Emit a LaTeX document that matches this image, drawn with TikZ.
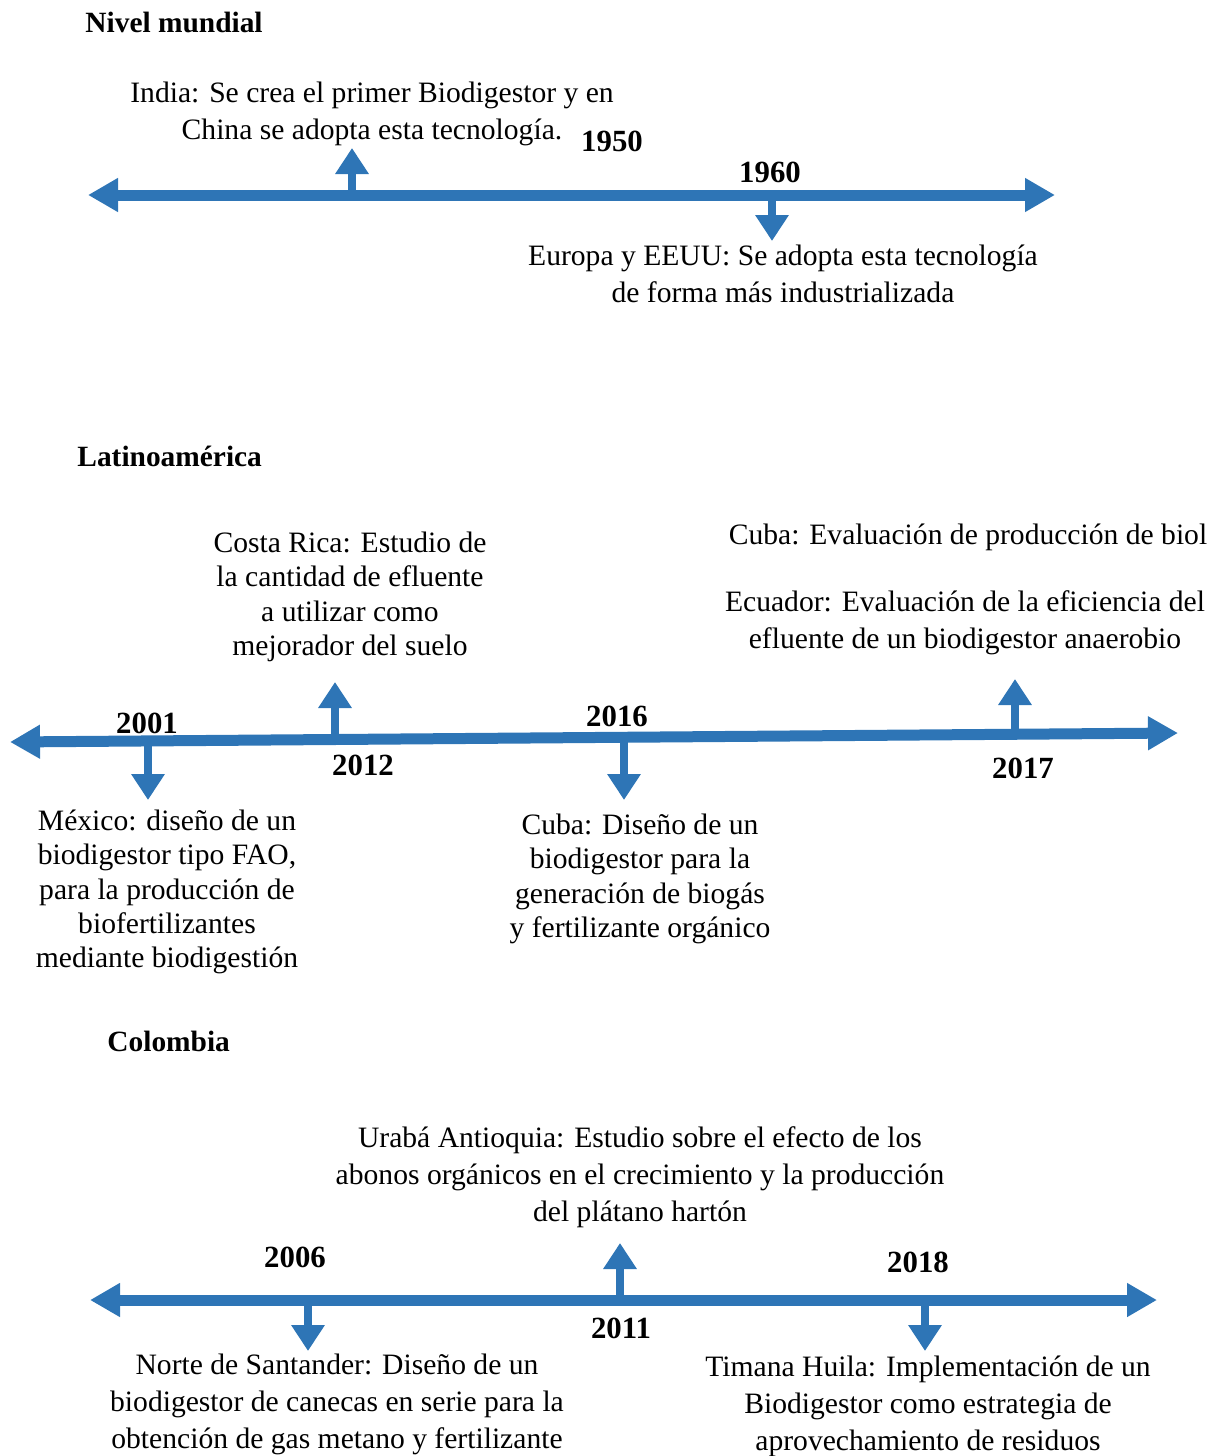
\documentclass[tikz,border=0pt]{standalone}
\usepackage{fontspec}
\setmainfont{Liberation Serif}
\usetikzlibrary{arrows.meta}
\definecolor{tlblue}{HTML}{2E75B6}
\begin{document}
\begin{tikzpicture}[x=0.5pt,y=-0.5pt,
  axis/.style={tlblue, line width=5.5pt, {Triangle[width=16pt,length=15pt]}-{Triangle[width=16pt,length=15pt]}},
  tick/.style={tlblue, line width=4pt, -{Triangle[width=16pt,length=13pt]}},
  desc/.style={align=center, font=\fontsize{14.8}{18.5}\selectfont, inner sep=0pt},
  descn/.style={align=center, font=\fontsize{14.8}{17.2}\selectfont, inner sep=0pt},
  year/.style={font=\fontsize{15.4}{16}\selectfont\bfseries, inner sep=0pt},
  head/.style={font=\fontsize{14.7}{16}\selectfont\bfseries, inner sep=0pt, anchor=west}]
\useasboundingbox (0,0) rectangle (1222,1456);

% ---------- Nivel mundial ----------
\node[head] (h1) at (85,22) {Nivel mundial};
\coordinate (a1l) at (88,195);
\coordinate (a1r) at (1055,195);
\draw[axis] (a1l) -- (a1r);
\coordinate (t1950) at (352,195);
\coordinate (t1950e) at (352,148);
\draw[tick] (t1950) -- (t1950e);
\coordinate (t1960) at (772,195);
\coordinate (t1960e) at (772,241);
\draw[tick] (t1960) -- (t1960e);
\node[year] (y1950) at (612,141) {1950};
\node[year] (y1960) at (770,172) {1960};
\node[desc] (india) at (372,114) {India: Se crea el primer Biodigestor y en\\China se adopta esta tecnología.};
\node[desc] (europa) at (783,274) {Europa y EEUU: Se adopta esta tecnología\\de forma más industrializada};

% ---------- Latinoamérica ----------
\node[head] (h2) at (77,456) {Latinoamérica};
\coordinate (a2l) at (10,742);
\coordinate (a2r) at (1178,733);
\draw[axis] (a2l) -- (a2r);
\coordinate (t2001) at (148,741);
\coordinate (t2001e) at (148,800);
\draw[tick] (t2001) -- (t2001e);
\coordinate (t2012) at (335,740);
\coordinate (t2012e) at (335,682);
\draw[tick] (t2012) -- (t2012e);
\coordinate (t2016) at (624,738);
\coordinate (t2016e) at (624,800);
\draw[tick] (t2016) -- (t2016e);
\coordinate (t2017) at (1015,735);
\coordinate (t2017e) at (1015,679);
\draw[tick] (t2017) -- (t2017e);
\node[year] (y2001) at (147,723) {2001};
\node[year] (y2012) at (363,765) {2012};
\node[year] (y2016) at (617,716) {2016};
\node[year] (y2017) at (1023,768) {2017};
\node[descn] (mexico) at (167,892) {México: diseño de un\\biodigestor tipo FAO,\\para la producción de\\biofertilizantes\\mediante biodigestión};
\node[descn] (costa) at (350,597) {Costa Rica: Estudio de\\la cantidad de efluente\\a utilizar como\\mejorador del suelo};
\node[descn] (cubad) at (640,879) {Cuba: Diseño de un\\biodigestor para la\\generación de biogás\\y fertilizante orgánico};
\node[desc] (cubab) at (968,537) {Cuba: Evaluación de producción de biol};
\node[desc] (ecuador) at (965,623) {Ecuador: Evaluación de la eficiencia del\\efluente de un biodigestor anaerobio};

% ---------- Colombia ----------
\node[head] (h3) at (107,1041) {Colombia};
\coordinate (a3l) at (90,1300);
\coordinate (a3r) at (1157,1300);
\draw[axis] (a3l) -- (a3r);
\coordinate (t2006) at (308,1300);
\coordinate (t2006e) at (308,1351);
\draw[tick] (t2006) -- (t2006e);
\coordinate (t2011) at (620,1300);
\coordinate (t2011e) at (620,1243);
\draw[tick] (t2011) -- (t2011e);
\coordinate (t2018) at (925,1300);
\coordinate (t2018e) at (925,1351);
\draw[tick] (t2018) -- (t2018e);
\node[year] (y2006) at (295,1257) {2006};
\node[year] (y2011) at (621,1328) {2011};
\node[year] (y2018) at (918,1262) {2018};
\node[desc] (uraba) at (640,1177) {Urabá Antioquia: Estudio sobre el efecto de los\\abonos orgánicos en el crecimiento y la producción\\del plátano hartón};
\node[desc] (norte) at (337,1404) {Norte de Santander: Diseño de un\\biodigestor de canecas en serie para la\\obtención de gas metano y fertilizante};
\node[desc] (timana) at (928,1406) {Timana Huila: Implementación de un\\Biodigestor como estrategia de\\aprovechamiento de residuos};
\end{tikzpicture}
\end{document}
